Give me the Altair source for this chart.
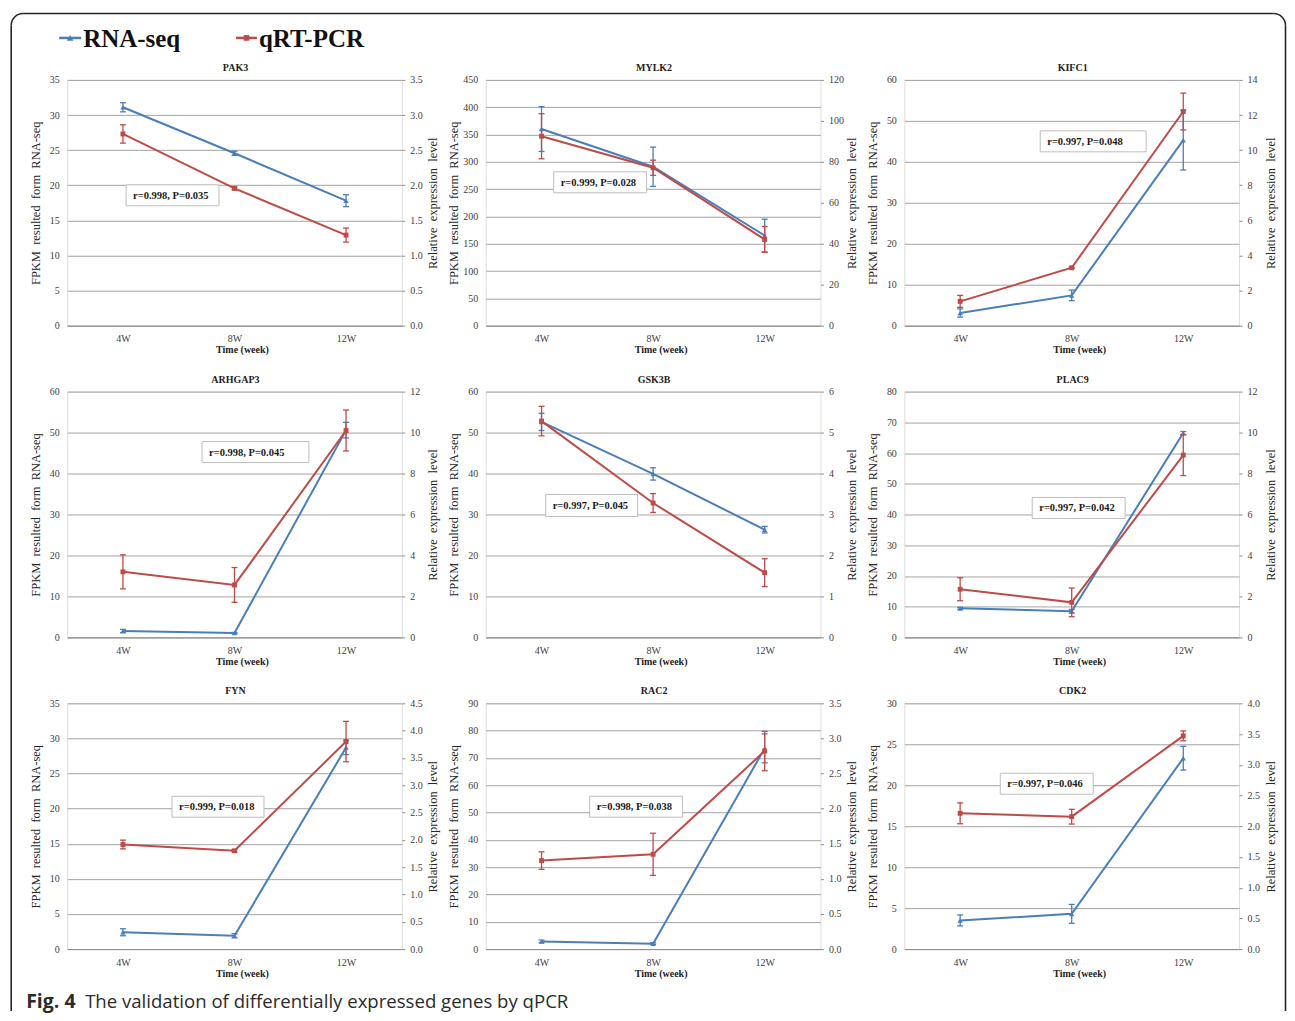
import altair as alt
import pandas as pd

# ---------------- data ----------------
genes = ["PAK3", "MYLK2", "KIFC1", "ARHGAP3", "GSK3B", "PLAC9", "FYN", "RAC2", "CDK2"]
times = ["4W", "8W", "12W"]

rna_seq_mean = [
    [31.1, 24.55, 17.8],
    [360.0, 291.0, 165.0],
    [3.1, 7.4, 45.3],
    [1.55, 1.06, 50.6],
    [52.6, 39.9, 26.3],
    [9.45, 8.5, 66.5],
    [2.4, 1.9, 28.7],
    [2.8, 2.0, 73.5],
    [3.5, 4.3, 23.3],
]
rna_seq_err = [
    [0.65, 0.3, 0.85],
    [41.0, 36.0, 30.0],
    [1.0, 1.3, 7.3],
    [0.4, 0.15, 1.9],
    [2.1, 1.5, 0.8],
    [0.3, 0.6, 0.5],
    [0.5, 0.3, 1.0],
    [0.5, 0.3, 5.3],
    [0.67, 1.15, 1.45],
]
qpcr_mean = [
    [2.73, 1.955, 1.29],
    [92.5, 77.1, 42.1],
    [1.385, 3.30, 12.2],
    [3.2, 2.56, 10.1],
    [5.28, 3.28, 1.58],
    [2.35, 1.71, 8.9],
    [1.915, 1.80, 3.80],
    [1.26, 1.35, 2.82],
    [2.21, 2.155, 3.47],
]
qpcr_err = [
    [0.13, 0.02, 0.10],
    [11.0, 3.7, 6.3],
    [0.34, 0.03, 1.05],
    [0.83, 0.85, 1.0],
    [0.36, 0.23, 0.34],
    [0.56, 0.7, 1.0],
    [0.08, 0.02, 0.37],
    [0.125, 0.3, 0.28],
    [0.17, 0.12, 0.08],
]
correlation_labels = [
    "r=0.998, P=0.035", "r=0.999, P=0.028", "r=0.997, P=0.048",
    "r=0.998, P=0.045", "r=0.997, P=0.045", "r=0.997, P=0.042",
    "r=0.999, P=0.018", "r=0.998, P=0.038", "r=0.997, P=0.046",
]
left_axis_max = [35, 450, 60, 60, 60, 80, 35, 90, 30]
left_axis_step = [5, 50, 10, 10, 10, 10, 5, 10, 5]
right_axis_max = [3.5, 120, 14, 12, 6, 12, 4.5, 3.5, 4.0]
right_axis_step = [0.5, 20, 2, 2, 1, 2, 0.5, 0.5, 0.5]

legend_labels = ["RNA-seq", "qRT-PCR"]
caption_bold = "Fig. 4"
caption_text = "The validation of differentially expressed genes by qPCR"

# ---------------- layout / style ----------------
W, H = 335, 246
BLUE = "#4a7ebb"
RED = "#be4b48"
SERIF = "Liberation Serif"
# annotation boxes (x0, y0, x1, y1) in pixels relative to each plot area
box_px = [
    (59, 105, 152, 126), (68, 92, 161, 113), (136, 51, 242, 72),
    (135, 50, 242, 71), (60, 103, 152, 125), (128, 106, 221, 127),
    (105, 93, 197, 114), (104, 93, 197, 114), (96, 70, 189, 91),
]
NB = "\u00a0 "
LEFT_TITLE = NB.join(["FPKM", "resulted", "form", "RNA-seq"])
RIGHT_TITLE = NB.join(["Relative", "expression", "level"])

one = pd.DataFrame({"d": [0]})


def ticks(mx, step):
    n = int(round(mx / step))
    return [round(i * step, 4) for i in range(n + 1)]


x_enc_axis = alt.Axis(
    labelAngle=0, ticks=False, tickSize=0, domain=True, domainColor="#8c8c8c",
    grid=False, labelPadding=8, labelFontSize=10, labelColor="#404040",
    labelFont=SERIF, title="Time (week)", titleFont=SERIF, titleFontSize=10,
    titleFontWeight="bold", titleColor="#222222", titleX=175, titleY=24,
    titleBaseline="middle", titleAlign="center",
)
x_scale = alt.Scale(type="point", padding=0.5, domain=times)


def series(df, color, shape, msize, scale, axis, title):
    base = alt.Chart(df).encode(
        x=alt.X("time:N", scale=x_scale, axis=x_enc_axis, sort=times, title="Time (week)")
    )

    def Y(f):
        return alt.Y(f, type="quantitative", scale=scale, axis=axis, title=title)

    line = base.mark_line(color=color, strokeWidth=2).encode(y=Y("mean"))
    rule = base.mark_rule(color=color, strokeWidth=1.3).encode(y=Y("lo"), y2="hi")
    cap_lo = base.mark_tick(color=color, size=6, thickness=1.3, opacity=1).encode(y=Y("lo"))
    cap_hi = base.mark_tick(color=color, size=6, thickness=1.3, opacity=1).encode(y=Y("hi"))
    pts = base.mark_point(shape=shape, filled=True, size=msize, opacity=1, color=color).encode(y=Y("mean"))
    return alt.layer(line, rule, cap_lo, cap_hi, pts)


def decorations():
    layers = []
    ox, oy = 66, 79  # page position of first plot origin
    fx0, fy0, fx1, fy_end = 10 - ox, 12.5 - oy, 1285.5 - ox, 1011 - oy
    r = 12
    fc, fw = "#262626", 1.6
    layers.append(alt.Chart(one).mark_rule(color=fc, strokeWidth=fw).encode(
        x=alt.value(fx0), y=alt.value(fy0 + r), y2=alt.value(fy_end)))
    layers.append(alt.Chart(one).mark_rule(color=fc, strokeWidth=fw).encode(
        x=alt.value(fx1), y=alt.value(fy0 + r), y2=alt.value(fy_end)))
    layers.append(alt.Chart(one).mark_rule(color=fc, strokeWidth=fw).encode(
        x=alt.value(fx0 + r), x2=alt.value(fx1 - r), y=alt.value(fy0)))
    layers.append(alt.Chart(one).mark_arc(color=fc, theta=4.7124, theta2=6.2832,
                                          radius=r + fw / 2, radius2=r - fw / 2).encode(
        x=alt.value(fx0 + r), y=alt.value(fy0 + r)))
    layers.append(alt.Chart(one).mark_arc(color=fc, theta=0, theta2=1.5708,
                                          radius=r + fw / 2, radius2=r - fw / 2).encode(
        x=alt.value(fx1 - r), y=alt.value(fy0 + r)))
    # legend
    ly = 37 - oy
    for (lx0, lx1, col, shape, ms, lab) in [
        (58 - ox, 80 - ox, BLUE, "triangle-up", 45, legend_labels[0]),
        (235 - ox, 256 - ox, RED, "square", 32, legend_labels[1]),
    ]:
        layers.append(alt.Chart(one).mark_rule(color=col, strokeWidth=2.5).encode(
            x=alt.value(lx0), x2=alt.value(lx1), y=alt.value(ly)))
        layers.append(alt.Chart(one).mark_point(shape=shape, filled=True, size=ms, opacity=1, color=col).encode(
            x=alt.value((lx0 + lx1) / 2), y=alt.value(ly)))
        layers.append(alt.Chart(one).mark_text(text=lab, align="left", baseline="middle", font=SERIF,
                                               fontSize=25, fontWeight="bold", color="#111111").encode(
            x=alt.value(lx1 + 2), y=alt.value(ly + 1)))
    # caption
    cy = 1008 - oy
    layers.append(alt.Chart(one).mark_text(text=caption_bold, align="left", baseline="alphabetic",
                                           font="Open Sans", fontSize=19.5, fontWeight="bold",
                                           color="#2b2b2b").encode(x=alt.value(25 - ox), y=alt.value(cy)))
    layers.append(alt.Chart(one).mark_text(text=caption_text, align="left", baseline="alphabetic",
                                           font="Open Sans", fontSize=18.6, fontWeight="normal",
                                           color="#2b2b2b").encode(x=alt.value(84 - ox), y=alt.value(cy)))
    return layers


panels = []
for i, g in enumerate(genes):
    bdf = pd.DataFrame({
        "time": times,
        "mean": rna_seq_mean[i],
        "lo": [m - e for m, e in zip(rna_seq_mean[i], rna_seq_err[i])],
        "hi": [m + e for m, e in zip(rna_seq_mean[i], rna_seq_err[i])],
    })
    rdf = pd.DataFrame({
        "time": times,
        "mean": qpcr_mean[i],
        "lo": [m - e for m, e in zip(qpcr_mean[i], qpcr_err[i])],
        "hi": [m + e for m, e in zip(qpcr_mean[i], qpcr_err[i])],
    })
    lscale = alt.Scale(domain=[0, left_axis_max[i]], nice=False, zero=True)
    rscale = alt.Scale(domain=[0, right_axis_max[i]], nice=False, zero=True)
    laxis = alt.Axis(
        orient="left", values=ticks(left_axis_max[i], left_axis_step[i]), ticks=False, tickSize=0,
        domain=False, grid=True, gridColor="#a3a3a3", gridWidth=1, labelFont=SERIF,
        labelFontSize=10, labelColor="#404040", labelPadding=8, format="d",
        titleFont=SERIF, titleFontSize=12.5, titleFontWeight="normal", titleColor="#262626",
        titleAngle=270, titleX=-32, titleY=H / 2, titleAlign="center", titleBaseline="middle",
    )
    rfmt = ".1f" if right_axis_step[i] < 1 else "d"
    raxis = alt.Axis(
        orient="right", values=ticks(right_axis_max[i], right_axis_step[i]), ticks=True, tickSize=3,
        tickColor="#8c8c8c", domain=False, grid=False, labelFont=SERIF, labelFontSize=10,
        labelColor="#404040", labelPadding=5, format=rfmt,
        titleFont=SERIF, titleFontSize=12.5, titleFontWeight="normal", titleColor="#262626",
        titleAngle=270, titleX=31, titleY=H / 2, titleAlign="center", titleBaseline="middle",
    )
    blue = series(bdf, BLUE, "triangle-up", 28, lscale, laxis, LEFT_TITLE)
    red = series(rdf, RED, "square", 24, rscale, raxis, RIGHT_TITLE)

    x0, y0, x1, y1 = box_px[i]
    box = alt.Chart(one).mark_rect(fill="white", stroke="#bdbdbd", strokeWidth=1).encode(
        x=alt.value(x0), x2=alt.value(x1), y=alt.value(y0), y2=alt.value(y1))
    txt = alt.Chart(one).mark_text(text=correlation_labels[i], align="left", baseline="middle",
                                   font=SERIF, fontSize=10.5, fontWeight="bold", color="#1a1a1a").encode(
        x=alt.value(x0 + 7), y=alt.value((y0 + y1) / 2 + 0.5))
    ttl = alt.Chart(one).mark_text(text=g, align="center", baseline="middle", font=SERIF,
                                   fontSize=10, fontWeight="bold", color="#222222").encode(
        x=alt.value(W / 2 + 1), y=alt.value(-12))

    extra = decorations() if i == 0 else []
    panel = alt.layer(blue, red, box, txt, ttl, *extra).resolve_scale(y="independent").properties(
        width=W, height=H,
    )
    panels.append(panel)

chart = alt.concat(
    *panels, columns=3, spacing={"row": 66, "column": 84}, bounds="flush",
    padding={"left": 1.2, "top": 3.5, "right": 0, "bottom": 0},
).configure_view(stroke="#a0a0a0", strokeWidth=1).configure(background="white")

chart.save("out.html", embed_options={"renderer": "svg", "actions": False})
